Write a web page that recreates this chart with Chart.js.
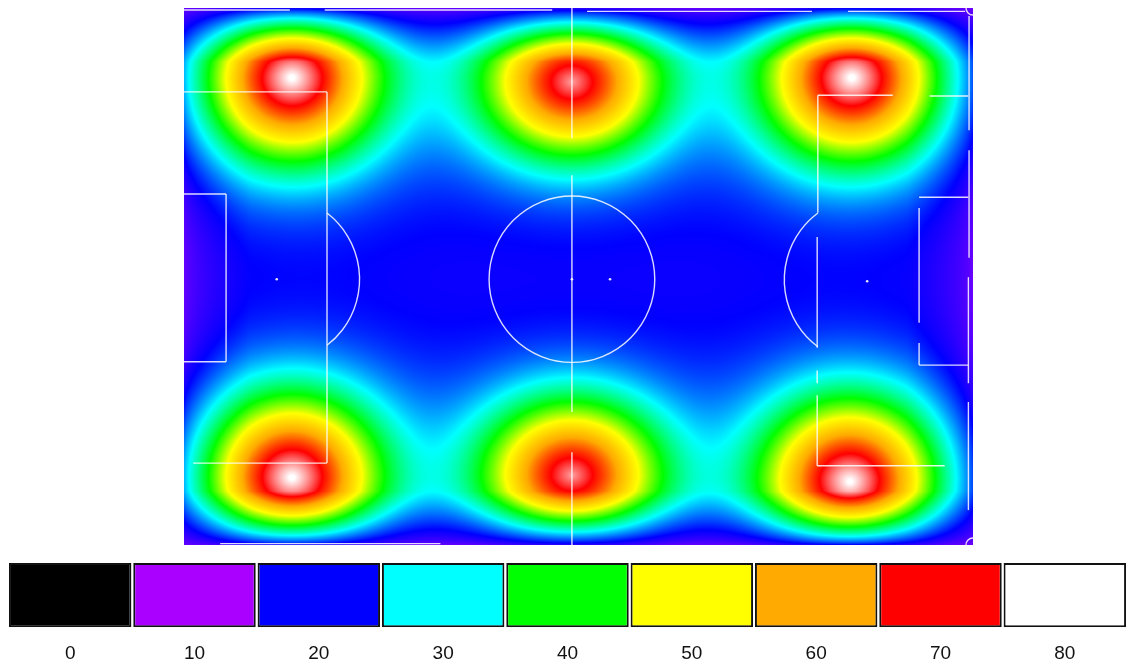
<!DOCTYPE html>
<html>
<head>
<meta charset="utf-8">
<script src="https://cdn.jsdelivr.net/npm/chart.js@4.4.1/dist/chart.umd.min.js"></script>
<style>
  html, body { margin: 0; padding: 0; background: #fff; overflow: hidden; }
  #pitchBox { position: absolute; left: 0; top: 0; width: 1127px; height: 555px; }
  #keyBox { position: absolute; left: 0; top: 555px; width: 1127px; height: 125px; }
</style>
</head>
<body>
<div id="pitchBox"><canvas id="pitch"></canvas></div>
<div id="keyBox"><canvas id="key"></canvas></div>
<script>
// hot spots, in pitch units (120 x 80)
const spotX = [16.4, 59.0, 101.6, 16.4, 59.0, 101.3];
const spotY = [10.4, 11.0, 10.4, 70.0, 69.6, 70.6];
const spotPeak = [82, 77, 82, 82, 77, 82];
const spotSpreadX = [13, 13.3, 13, 13, 13.3, 13];
const spotSpreadY = [12, 11, 12, 12, 11, 12];

// colour key under the pitch
const keyValues = [0, 10, 20, 30, 40, 50, 60, 70, 80];
const keyColors = ['#000000', '#aa00ff', '#0000ff', '#00ffff', '#00ff00', '#ffff00', '#ffaa00', '#ff0000', '#ffffff'];

const keyRgb = keyColors.map(c => [1, 3, 5].map(i => parseInt(c.substr(i, 2), 16)));

function colourFor(v) {
  const top = keyValues[keyValues.length - 1];
  if (v <= 0) return keyRgb[0];
  if (v >= top) return keyRgb[keyRgb.length - 1];
  const step = keyValues[1] - keyValues[0];
  const i = Math.floor(v / step);
  const t = (v - keyValues[i]) / step;
  const a = keyRgb[i], b = keyRgb[i + 1];
  return [a[0] + (b[0] - a[0]) * t, a[1] + (b[1] - a[1]) * t, a[2] + (b[2] - a[2]) * t];
}

// paints the smooth field behind the pitch lines
const heatPlugin = {
  id: 'heat',
  beforeDatasetsDraw(chart) {
    const { ctx, chartArea: a, scales: { x, y } } = chart;
    const w = Math.round(a.right - a.left), h = Math.round(a.bottom - a.top);
    const img = ctx.createImageData(w, h);
    const spots = chart.data.datasets[0].data;
    const floor = 19;
    const wideShare = 0.08, wideScale = 2.0;
    const coreShare = 0.07, coreLen = 0.16;

    const ux = [], bx = [];
    for (let i = 0; i < w; i++) {
      const v = x.getValueForPixel(a.left + i + 0.5);
      const d = Math.max(0, Math.min(v - x.min, x.max - v));
      ux.push(v);
      bx.push(Math.sqrt(Math.min(1, d / 10)));
    }
    const uy = [], ey = [], by = [];
    for (let j = 0; j < h; j++) {
      const v = y.getValueForPixel(a.top + j + 0.5);
      const d = Math.max(0, Math.min(v - y.min, y.max - v));
      uy.push(v);
      ey.push(0.2 + 0.8 * Math.pow(Math.min(1, d / 8), 0.7));
      by.push(Math.sqrt(Math.min(1, d / 10)));
    }

    let k = 0;
    for (let j = 0; j < h; j++) {
      for (let i = 0; i < w; i++) {
        let sum = 0;
        for (const s of spots) {
          const amp = s.v - floor;
          const nx = (ux[i] - s.x) / s.sx, ny = (uy[j] - s.y) / s.sy;
          const r2 = nx * nx + ny * ny;
          const main = Math.exp(-Math.pow(r2, 0.95));
          const wide = Math.exp(-r2 / (wideScale * wideScale));
          const core = Math.exp(-Math.sqrt(r2) / coreLen);
          sum += amp * ((1 - wideShare - coreShare) * main + wideShare * wide + coreShare * core);
        }
        const base = 12 + 5.5 * bx[i] * by[j];
        const val = base + sum * ey[j];
        const c = colourFor(val);
        img.data[k++] = c[0];
        img.data[k++] = c[1];
        img.data[k++] = c[2];
        img.data[k++] = 255;
      }
    }
    ctx.putImageData(img, Math.round(a.left), Math.round(a.top));
  }
};

// white pitch markings, given in pitch units
const linesPlugin = {
  id: 'pitchLines',
  afterDatasetsDraw(chart) {
    const { ctx, scales: { x, y } } = chart;
    const X = v => x.getPixelForValue(v), Y = v => y.getPixelForValue(v);
    const rx = Math.abs(X(12.6) - X(0)), ry = Math.abs(Y(12.4) - Y(0));
    ctx.save();
    ctx.strokeStyle = 'rgba(255,255,255,0.85)';
    ctx.fillStyle = 'rgba(255,255,255,0.9)';
    ctx.lineWidth = 1.4;

    const seg = (x1, y1, x2, y2) => {
      ctx.beginPath();
      ctx.moveTo(X(x1), Y(y1));
      ctx.lineTo(X(x2), Y(y2));
      ctx.stroke();
    };
    const arc = (cx, cy, from, to) => {
      ctx.beginPath();
      ctx.ellipse(X(cx), Y(cy), rx, ry, 0, from, to);
      ctx.stroke();
    };
    const dot = (cx, cy) => {
      ctx.beginPath();
      ctx.arc(X(cx), Y(cy), 1.3, 0, Math.PI * 2);
      ctx.fill();
    };
    const deg = d => d * Math.PI / 180;

    // touchlines
    seg(0, 0.3, 16.1, 0.3); seg(21.4, 0.3, 56.0, 0.3); seg(61.3, 0.5, 95.5, 0.5); seg(101.0, 0.5, 118.8, 0.5);
    seg(5.5, 79.8, 39.0, 79.8);
    seg(119.4, 1.2, 119.4, 18.2); seg(119.4, 21.2, 119.4, 37.2); seg(119.3, 40.1, 119.3, 55.9); seg(119.3, 58.7, 119.3, 74.8);
    // halfway line
    seg(59.0, 0, 59.0, 19.4); seg(59.0, 24.9, 59.0, 60.2); seg(59.0, 66.2, 59.0, 80);

    // left end
    seg(0, 12.5, 21.75, 12.5); seg(21.75, 12.5, 21.75, 67.8); seg(1.4, 67.8, 21.75, 67.8);
    seg(0, 27.7, 6.4, 27.7); seg(6.4, 27.7, 6.4, 52.7); seg(0, 52.7, 6.4, 52.7);
    dot(14.1, 40.4);
    arc(14.1, 40.4, deg(-52.6), deg(52.6));

    // centre
    arc(59.0, 40.4, 0, Math.PI * 2);
    dot(59.0, 40.4);
    dot(64.8, 40.4);

    // right end
    seg(96.4, 13.0, 107.8, 13.0); seg(113.4, 13.1, 119.3, 13.1);
    seg(96.4, 13.0, 96.4, 30.5); seg(96.3, 34.1, 96.3, 50.6); seg(96.3, 54.0, 96.3, 55.9); seg(96.3, 57.7, 96.3, 68.2);
    seg(96.3, 68.2, 115.7, 68.2);
    seg(111.8, 28.2, 119.3, 28.2); seg(111.8, 29.8, 111.8, 46.9); seg(111.8, 49.9, 111.8, 53.2); seg(111.8, 53.2, 119.3, 53.2);
    dot(103.9, 40.7);
    arc(103.9, 40.5, deg(180 - 53.5), deg(180 + 53.5));

    // corner marks
    ctx.beginPath();
    ctx.arc(X(120), Y(0), 7, Math.PI / 2, Math.PI);
    ctx.stroke();
    ctx.beginPath();
    ctx.arc(X(120), Y(80), 7, Math.PI, Math.PI * 1.5);
    ctx.stroke();
    ctx.restore();
  }
};

new Chart(document.getElementById('pitch'), {
  type: 'scatter',
  data: {
    datasets: [{
      data: spotX.map((v, i) => ({ x: v, y: spotY[i], v: spotPeak[i], sx: spotSpreadX[i], sy: spotSpreadY[i] })),
      pointRadius: 0
    }]
  },
  options: {
    responsive: true,
    maintainAspectRatio: false,
    animation: false,
    devicePixelRatio: 1,
    layout: { padding: { left: 184, right: 154, top: 8, bottom: 10 } },
    scales: {
      x: { type: 'linear', min: 0, max: 120, display: false },
      y: { type: 'linear', min: 0, max: 80, reverse: true, display: false }
    },
    plugins: { legend: { display: false }, tooltip: { enabled: false } }
  },
  plugins: [heatPlugin, linesPlugin]
});

new Chart(document.getElementById('key'), {
  type: 'bar',
  data: {
    labels: keyValues.map(String),
    datasets: [{
      data: keyValues.map(() => 1),
      backgroundColor: keyColors,
      borderColor: '#111',
      borderWidth: 2,
      borderSkipped: false,
      categoryPercentage: 1,
      barPercentage: 0.985
    }]
  },
  options: {
    responsive: true,
    maintainAspectRatio: false,
    animation: false,
    devicePixelRatio: 1,
    layout: { padding: { left: 8, right: 0, top: 8, bottom: 0 } },
    scales: {
      x: {
        grid: { display: false, drawTicks: false },
        border: { display: false },
        ticks: { color: '#111', padding: 15, font: { family: 'Liberation Sans, Arial, sans-serif', size: 19 } }
      },
      y: { display: false, min: 0, max: 1 }
    },
    plugins: { legend: { display: false }, tooltip: { enabled: false } }
  }
});
</script>
</body>
</html>
